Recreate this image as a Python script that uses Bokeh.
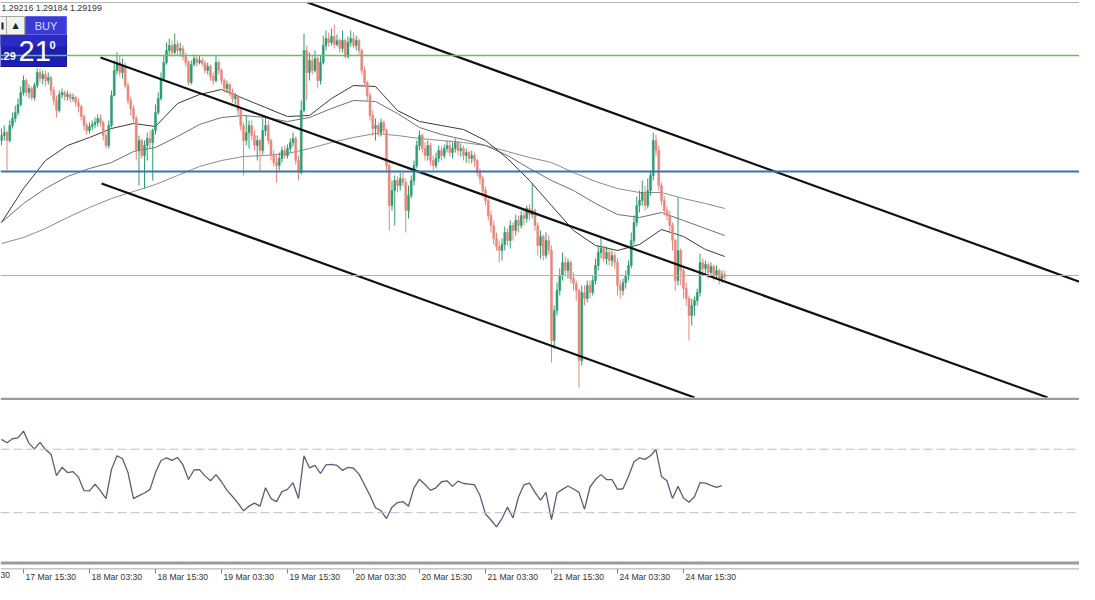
from bokeh.plotting import figure
from bokeh.layouts import column
from bokeh.models import Range1d, Span, Label, ColumnDataSource
from bokeh.embed import file_html
from bokeh.resources import INLINE

# ---------------- data (GBPUSD M30, bar index 0 = 17 Mar 11:30) ----------------
first_open = 1.3055
closes = [
    1.3060, 1.3063, 1.3055, 1.3070, 1.3077, 1.3083, 1.3091, 1.3103, 1.3115, 1.3103,
    1.3107, 1.3098, 1.3110, 1.3123, 1.3117, 1.3121, 1.3115, 1.3118, 1.3105, 1.3095,
    1.3085, 1.3101, 1.3103, 1.3099, 1.3101, 1.3097, 1.3098, 1.3093, 1.3089, 1.3079,
    1.3070, 1.3065, 1.3069, 1.3071, 1.3073, 1.3077, 1.3073, 1.3060, 1.3050, 1.3070,
    1.3100, 1.3125, 1.3133, 1.3123, 1.3129, 1.3110, 1.3095, 1.3087, 1.3077, 1.3045,
    1.3055, 1.3040, 1.3050, 1.3057, 1.3053, 1.3065, 1.3083, 1.3097, 1.3117, 1.3133,
    1.3145, 1.3150, 1.3143, 1.3151, 1.3145, 1.3147, 1.3139, 1.3133, 1.3113, 1.3131,
    1.3137, 1.3133, 1.3135, 1.3132, 1.3125, 1.3129, 1.3119, 1.3115, 1.3133, 1.3125,
    1.3115, 1.3107, 1.3111, 1.3103, 1.3097, 1.3099, 1.3085, 1.3070, 1.3055, 1.3063,
    1.3070, 1.3060, 1.3050, 1.3055, 1.3045, 1.3065, 1.3070, 1.3055, 1.3040, 1.3033,
    1.3030, 1.3037, 1.3045, 1.3040, 1.3047, 1.3053, 1.3057, 1.3035, 1.3023, 1.3085,
    1.3145, 1.3123, 1.3135, 1.3125, 1.3137, 1.3115, 1.3133, 1.3150, 1.3157, 1.3153,
    1.3159, 1.3151, 1.3155, 1.3147, 1.3155, 1.3139, 1.3153, 1.3157, 1.3150, 1.3155,
    1.3145, 1.3125, 1.3113, 1.3100, 1.3080, 1.3067, 1.3070, 1.3063, 1.3073, 1.3065,
    1.3030, 1.2990, 1.3005, 1.3015, 1.3010, 1.3017, 1.3013, 1.2985, 1.3000, 1.3015,
    1.3030, 1.3050, 1.3060, 1.3047, 1.3040, 1.3050, 1.3035, 1.3030, 1.3037, 1.3045,
    1.3040, 1.3047, 1.3050, 1.3043, 1.3047, 1.3053, 1.3045, 1.3047, 1.3040, 1.3043,
    1.3037, 1.3040, 1.3035, 1.3023, 1.3017, 1.3005, 1.2995, 1.2980, 1.2970, 1.2957,
    1.2949, 1.2945, 1.2951, 1.2963, 1.2955, 1.2970, 1.2965, 1.2975, 1.2970, 1.2980,
    1.2977, 1.2987, 1.2981, 1.2985, 1.2970, 1.2950, 1.2959, 1.2940, 1.2955, 1.2945,
    1.2855, 1.2885, 1.2905, 1.2920, 1.2933, 1.2925, 1.2933, 1.2917, 1.2912, 1.2905,
    1.2835, 1.2903, 1.2897, 1.2910, 1.2903, 1.2915, 1.2930, 1.2943, 1.2947, 1.2937,
    1.2943, 1.2935, 1.2940, 1.2933, 1.2910, 1.2905, 1.2913, 1.2920, 1.2930, 1.2955,
    1.2973, 1.2990, 1.2995, 1.3003, 1.2990, 1.3005, 1.3020, 1.3055, 1.3045, 1.3010,
    1.2995, 1.2985, 1.2980, 1.2970, 1.2955, 1.2915, 1.2945, 1.2925, 1.2907, 1.2897,
    1.2880, 1.2890, 1.2895, 1.2903, 1.2933, 1.2927, 1.2931, 1.2923, 1.2929, 1.2921,
    1.2925, 1.2917, 1.2921, 1.2919,
]
highs = [
    1.3067, 1.3070, 1.3065, 1.3075, 1.3083, 1.3090, 1.3097, 1.3109, 1.3120, 1.3117,
    1.3111, 1.3109, 1.3113, 1.3127, 1.3127, 1.3125, 1.3125, 1.3123, 1.3120, 1.3109,
    1.3100, 1.3105, 1.3107, 1.3105, 1.3105, 1.3103, 1.3102, 1.3100, 1.3097, 1.3091,
    1.3081, 1.3073, 1.3073, 1.3075, 1.3078, 1.3081, 1.3081, 1.3075, 1.3063, 1.3075,
    1.3105, 1.3135, 1.3143, 1.3140, 1.3137, 1.3133, 1.3113, 1.3099, 1.3090, 1.3080,
    1.3060, 1.3057, 1.3055, 1.3063, 1.3065, 1.3067, 1.3091, 1.3103, 1.3123, 1.3140,
    1.3153, 1.3157, 1.3155, 1.3162, 1.3155, 1.3153, 1.3150, 1.3143, 1.3135, 1.3135,
    1.3141, 1.3139, 1.3140, 1.3138, 1.3135, 1.3133, 1.3131, 1.3123, 1.3140, 1.3135,
    1.3127, 1.3117, 1.3115, 1.3113, 1.3107, 1.3103, 1.3101, 1.3087, 1.3073, 1.3080,
    1.3075, 1.3075, 1.3065, 1.3060, 1.3057, 1.3077, 1.3078, 1.3075, 1.3057, 1.3045,
    1.3040, 1.3043, 1.3049, 1.3050, 1.3051, 1.3057, 1.3063, 1.3059, 1.3040, 1.3095,
    1.3162, 1.3150, 1.3143, 1.3140, 1.3145, 1.3139, 1.3140, 1.3160, 1.3165, 1.3163,
    1.3167, 1.3171, 1.3161, 1.3157, 1.3165, 1.3157, 1.3159, 1.3165, 1.3163, 1.3160,
    1.3157, 1.3147, 1.3129, 1.3115, 1.3103, 1.3085, 1.3077, 1.3073, 1.3077, 1.3075,
    1.3067, 1.3035, 1.3015, 1.3020, 1.3019, 1.3023, 1.3023, 1.3017, 1.3010, 1.3020,
    1.3035, 1.3055, 1.3065, 1.3062, 1.3053, 1.3055, 1.3053, 1.3040, 1.3043, 1.3050,
    1.3049, 1.3051, 1.3055, 1.3055, 1.3053, 1.3057, 1.3055, 1.3052, 1.3050, 1.3047,
    1.3045, 1.3045, 1.3043, 1.3037, 1.3027, 1.3020, 1.3009, 1.2997, 1.2985, 1.2975,
    1.2963, 1.2955, 1.2957, 1.2969, 1.2967, 1.2975, 1.2973, 1.2981, 1.2980, 1.2985,
    1.2985, 1.2990, 1.2991, 1.3012, 1.2987, 1.2973, 1.2965, 1.2961, 1.2963, 1.2960,
    1.2950, 1.2890, 1.2913, 1.2927, 1.2943, 1.2939, 1.2937, 1.2935, 1.2923, 1.2915,
    1.2907, 1.2910, 1.2910, 1.2915, 1.2915, 1.2920, 1.2937, 1.2950, 1.2957, 1.2950,
    1.2949, 1.2947, 1.2945, 1.2943, 1.2937, 1.2915, 1.2917, 1.2925, 1.2935, 1.2963,
    1.2980, 1.2999, 1.3005, 1.3015, 1.3010, 1.3017, 1.3025, 1.3063, 1.3061, 1.3050,
    1.3013, 1.3000, 1.2989, 1.2985, 1.2973, 1.2957, 1.2998, 1.2947, 1.2929, 1.2913,
    1.2900, 1.2897, 1.2899, 1.2907, 1.2942, 1.2937, 1.2935, 1.2933, 1.2933, 1.2931,
    1.2930, 1.2927, 1.2925, 1.2925,
]
lows = [
    1.3050, 1.3055, 1.3025, 1.3053, 1.3067, 1.3073, 1.3080, 1.3089, 1.3100, 1.3099,
    1.3097, 1.3095, 1.3095, 1.3107, 1.3113, 1.3111, 1.3109, 1.3111, 1.3100, 1.3090,
    1.3078, 1.3083, 1.3097, 1.3095, 1.3095, 1.3093, 1.3094, 1.3089, 1.3083, 1.3075,
    1.3065, 1.3061, 1.3062, 1.3065, 1.3067, 1.3069, 1.3069, 1.3055, 1.3047, 1.3047,
    1.3068, 1.3099, 1.3121, 1.3119, 1.3117, 1.3107, 1.3091, 1.3080, 1.3073, 1.3035,
    1.3010, 1.3037, 1.3007, 1.3035, 1.3047, 1.3015, 1.3061, 1.3081, 1.3095, 1.3115,
    1.3131, 1.3140, 1.3139, 1.3141, 1.3140, 1.3139, 1.3135, 1.3129, 1.3110, 1.3111,
    1.3129, 1.3129, 1.3131, 1.3129, 1.3122, 1.3121, 1.3115, 1.3111, 1.3113, 1.3121,
    1.3111, 1.3103, 1.3103, 1.3099, 1.3093, 1.3091, 1.3081, 1.3065, 1.3020, 1.3050,
    1.3047, 1.3055, 1.3045, 1.3035, 1.3025, 1.3041, 1.3060, 1.3051, 1.3035, 1.3029,
    1.3013, 1.3025, 1.3033, 1.3037, 1.3037, 1.3043, 1.3049, 1.3031, 1.3015, 1.3021,
    1.3083, 1.3095, 1.3115, 1.3121, 1.3123, 1.3107, 1.3111, 1.3131, 1.3145, 1.3149,
    1.3150, 1.3147, 1.3149, 1.3143, 1.3143, 1.3137, 1.3137, 1.3149, 1.3147, 1.3145,
    1.3141, 1.3121, 1.3109, 1.3095, 1.3075, 1.3060, 1.3055, 1.3059, 1.3059, 1.3061,
    1.3025, 1.2965, 1.2985, 1.2970, 1.3003, 1.3005, 1.3009, 1.2963, 1.2977, 1.2997,
    1.3010, 1.3027, 1.3045, 1.3043, 1.3035, 1.3035, 1.3030, 1.3025, 1.3027, 1.3033,
    1.3035, 1.3037, 1.3043, 1.3039, 1.3037, 1.3043, 1.3040, 1.3039, 1.3035, 1.3033,
    1.3032, 1.3032, 1.3029, 1.3019, 1.3011, 1.2999, 1.2990, 1.2975, 1.2963, 1.2951,
    1.2945, 1.2933, 1.2935, 1.2945, 1.2950, 1.2947, 1.2955, 1.2960, 1.2963, 1.2967,
    1.2970, 1.2973, 1.2975, 1.2977, 1.2965, 1.2940, 1.2937, 1.2935, 1.2937, 1.2941,
    1.2833, 1.2847, 1.2880, 1.2900, 1.2915, 1.2920, 1.2917, 1.2913, 1.2905, 1.2895,
    1.2808, 1.2830, 1.2890, 1.2893, 1.2897, 1.2900, 1.2911, 1.2925, 1.2937, 1.2933,
    1.2931, 1.2930, 1.2929, 1.2927, 1.2900, 1.2897, 1.2900, 1.2907, 1.2915, 1.2927,
    1.2951, 1.2969, 1.2983, 1.2990, 1.2985, 1.2987, 1.3000, 1.3015, 1.3039, 1.3005,
    1.2990, 1.2980, 1.2975, 1.2963, 1.2945, 1.2905, 1.2910, 1.2910, 1.2897, 1.2890,
    1.2855, 1.2870, 1.2880, 1.2890, 1.2899, 1.2920, 1.2920, 1.2917, 1.2919, 1.2915,
    1.2917, 1.2911, 1.2913, 1.2915,
]

# moving averages, read every 8 bars (last at bar 263)
ma_bars = [0, 8, 16, 24, 32, 40, 48, 56, 64, 72, 80, 88, 96, 104, 112, 120, 128,
           136, 144, 152, 160, 168, 176, 184, 192, 200, 208, 216, 224, 232, 240,
           248, 256, 263]
ma_fast = [1.2973, 1.3007, 1.3035, 1.3050, 1.3058, 1.3067, 1.3072, 1.3069, 1.3092,
           1.3101, 1.3106, 1.3097, 1.3088, 1.3079, 1.3080, 1.3097, 1.3110, 1.3109,
           1.3085, 1.3074, 1.3070, 1.3066, 1.3055, 1.3037, 1.3015, 1.2990, 1.2965,
           1.2950, 1.2945, 1.2951, 1.2966, 1.2959, 1.2946, 1.2939]
ma_mid = [1.2973, 1.2992, 1.3007, 1.3019, 1.3027, 1.3033, 1.3044, 1.3048, 1.3059,
          1.3071, 1.3078, 1.3080, 1.3078, 1.3074, 1.3078, 1.3087, 1.3095, 1.3094,
          1.3082, 1.3068, 1.3061, 1.3056, 1.3050, 1.3040, 1.3027, 1.3015, 1.3005,
          1.2992, 1.2981, 1.2978, 1.2983, 1.2975, 1.2967, 1.2960]
ma_slow = [1.2952, 1.2958, 1.2967, 1.2978, 1.2988, 1.2997, 1.3004, 1.3011, 1.3020,
           1.3029, 1.3035, 1.3039, 1.3040, 1.3042, 1.3047, 1.3053, 1.3058, 1.3062,
           1.3060, 1.3057, 1.3055, 1.3053, 1.3050, 1.3044, 1.3038, 1.3033, 1.3023,
           1.3014, 1.3007, 1.3003, 1.3003, 1.2997, 1.2992, 1.2987]

# RSI(14), read every 2 bars
rsi_values = [
    76.2, 74.1, 76.6, 77.2, 81.4, 73.7, 70.2, 74.3, 69.8, 66.9,
    53.4, 58.6, 55.3, 55.9, 52.4, 43.9, 43.7, 48.0, 43.7, 38.9,
    57.3, 65.9, 64.0, 55.3, 38.9, 40.8, 42.4, 44.7, 55.3, 62.9,
    64.6, 63.0, 64.8, 60.1, 50.9, 56.9, 57.1, 53.2, 50.1, 54.0,
    49.5, 44.1, 40.2, 36.0, 31.2, 34.1, 36.0, 34.1, 45.7, 38.9,
    37.0, 43.3, 44.7, 48.9, 38.9, 65.9, 58.2, 59.8, 54.7, 60.1,
    60.5, 59.8, 56.7, 58.6, 58.0, 54.3, 47.6, 40.8, 33.1, 31.2,
    26.3, 33.5, 36.4, 37.0, 34.1, 45.7, 51.1, 47.8, 44.1, 45.7,
    49.5, 50.1, 46.6, 49.9, 48.4, 48.0, 47.6, 40.8, 29.2, 25.4,
    21.1, 26.3, 33.5, 26.7, 39.9, 47.6, 48.6, 42.8, 37.9, 42.8,
    25.7, 42.4, 44.7, 46.8, 44.9, 42.8, 32.1, 46.2, 50.9, 54.0,
    50.9, 50.9, 44.7, 45.1, 52.8, 62.1, 64.6, 63.6, 65.9, 69.8,
    52.8, 50.1, 38.9, 46.6, 39.3, 36.6, 40.0, 48.9, 48.6, 47.2,
    46.0, 47.0,
]
rsi_levels = [70, 30]

# drawn objects: trend channel (bar index, price) and horizontal levels
channel_lines = [
    ((111.3, 1.3193), (397.8, 1.2908)),
    ((36.0, 1.3138), (380.4, 1.2798)),
    ((36.4, 1.3012), (252.0, 1.2798)),
]
level_green = 1.3140
level_blue = 1.3024
bid_price = 1.2920

tick_bars = [8, 32, 56, 80, 104, 128, 152, 176, 200, 224, 248]
tick_labels = ["17 Mar 15:30", "18 Mar 03:30", "18 Mar 15:30", "19 Mar 03:30",
               "19 Mar 15:30", "20 Mar 03:30", "20 Mar 15:30", "21 Mar 03:30",
               "21 Mar 15:30", "24 Mar 03:30", "24 Mar 15:30"]
edge_label = "30"          # visible tail of the "17 Mar 03:30" label at the left edge
header_text = "1.29216 1.29184 1.29199"

# ---------------- build ----------------
W = 1079
BAR_PX = 2.75
x_lo = -0.36
x_hi = x_lo + W / BAR_PX
y_top, y_bot = 1.3195, 1.2798

opens = [first_open] + closes[:-1]
idx = list(range(len(closes)))

bull = dict(x=[], top=[], bottom=[], hi=[], lo=[])
bear = dict(x=[], top=[], bottom=[], hi=[], lo=[])
for i, o, h, l, c in zip(idx, opens, highs, lows, closes):
    d = bull if c >= o else bear
    d["x"].append(i)
    d["top"].append(max(o, c))
    d["bottom"].append(min(o, c))
    d["hi"].append(h)
    d["lo"].append(l)

BULL = "#2f9c70"
BEAR = "#ea857a"

xr = Range1d(x_lo, x_hi)
p = figure(width=W, height=400, x_range=xr, y_range=Range1d(y_bot, y_top),
           output_backend="svg", toolbar_location=None,
           x_axis_location=None, y_axis_location=None,
           min_border=0, min_border_left=0, min_border_right=0, min_border_top=0,
           min_border_bottom=3, border_fill_color="#9c9c9c",
           background_fill_color="white", outline_line_color=None)
p.grid.visible = False

# top border line
p.add_layout(Span(location=y_top - 0.0002, dimension="width", line_color="#b4b4b4", line_width=1))

# horizontal levels
p.add_layout(Span(location=bid_price, dimension="width", line_color="#b0b0b0", line_width=1))
p.add_layout(Span(location=level_green, dimension="width", line_color="#62c062", line_width=1.3))
p.add_layout(Span(location=level_blue, dimension="width", line_color="#3676b0", line_width=2))

# moving averages
p.line(ma_bars, ma_slow, line_color="#8c8c8c", line_width=1)
p.line(ma_bars, ma_mid, line_color="#707070", line_width=1)
p.line(ma_bars, ma_fast, line_color="#3a3a3a", line_width=1)

# candles
for d, col in ((bull, BULL), (bear, BEAR)):
    src = ColumnDataSource(d)
    p.segment(x0="x", y0="lo", x1="x", y1="hi", source=src, line_color=col, line_width=1)
    p.vbar(x="x", top="top", bottom="bottom", width=0.72, source=src,
           fill_color=col, line_color=col, line_width=0.5)

# channel
for (xa, ya), (xb, yb) in channel_lines:
    p.line([xa, xb], [ya, yb], line_color="#111111", line_width=2.2)


# one-click trading panel (positions in screen pixels of the chart)
def xp(px):
    return x_lo + px / BAR_PX


def yp(py):
    return y_top - py * (y_top - y_bot) / 397.0


p.quad(left=[xp(-2)], right=[xp(66)], top=[yp(34)], bottom=[yp(66)],
       fill_color="#1e1eb2", line_color="#15158a", line_width=1)
p.quad(left=[xp(-2)], right=[xp(66)], top=[yp(34)], bottom=[yp(46)],
       fill_color="#2a2ac4", line_color=None)
p.quad(left=[xp(25)], right=[xp(66)], top=[yp(16)], bottom=[yp(34)],
       fill_color="#3a3ad4", line_color="#6262e6", line_width=1)
p.quad(left=[xp(-2)], right=[xp(24)], top=[yp(16)], bottom=[yp(34)],
       fill_color="#f2f2f2", line_color="#a8a8a8", line_width=1)
p.quad(left=[xp(-2)], right=[xp(6)], top=[yp(16)], bottom=[yp(34)],
       fill_color="#f2f2f2", line_color="#a8a8a8", line_width=1)
p.quad(left=[xp(1)], right=[xp(3)], top=[yp(22)], bottom=[yp(29)],
       fill_color="#202020", line_color=None)

p.add_layout(Label(x=xp(15), y=yp(25), text="\u25b2", text_align="center",
                   text_baseline="middle", text_font_size="8px", text_color="#202020",
                   text_font="DejaVu Sans"))
p.add_layout(Label(x=xp(45.5), y=yp(25.5), text="BUY", text_align="center",
                   text_baseline="middle", text_font_size="11px", text_color="#dcdcff",
                   text_font="Liberation Sans"))
p.add_layout(Label(x=xp(0), y=yp(55.5), text=".29", text_align="left",
                   text_baseline="middle", text_font_size="11px", text_font_style="bold",
                   text_color="white", text_font="Liberation Sans"))
p.add_layout(Label(x=xp(18), y=yp(50), text="21", text_align="left",
                   text_baseline="middle", text_font_size="29px",
                   text_color="white", text_font="Liberation Sans"))
p.add_layout(Label(x=xp(49), y=yp(44), text="0", text_align="left",
                   text_baseline="middle", text_font_size="11px", text_font_style="bold",
                   text_color="white", text_font="Liberation Sans"))
p.add_layout(Label(x=xp(1), y=yp(7.5), text=header_text, text_align="left",
                   text_baseline="middle", text_font_size="8.8px",
                   text_color="#333333", text_font="Liberation Sans"))

# ---------------- RSI panel with the time scale drawn inside it ----------------
RSI_TOP = 100.7
RSI_PX = 1.725 * 0.92                  # pixels per RSI unit in this panel
H2 = 184


def rv(ref_y):                          # reference-pixel row -> panel value
    return RSI_TOP - (ref_y - 400) / 1.725


r = figure(width=W, height=H2, x_range=xr,
           y_range=Range1d(RSI_TOP - H2 / RSI_PX, RSI_TOP),
           output_backend="svg", toolbar_location=None,
           y_axis_location=None, x_axis_location=None,
           min_border=0, min_border_left=0, min_border_right=0, min_border_top=0,
           min_border_bottom=0, border_fill_color="white",
           background_fill_color="white", outline_line_color=None)
r.grid.visible = False
for lv in rsi_levels:
    r.add_layout(Span(location=lv, dimension="width", line_color="#bdbdca",
                      line_width=1, line_dash="9 4"))
r.line([2 * k for k in range(len(rsi_values))], rsi_values,
       line_color="#5c5c78", line_width=1.3)
# panel bottom border and time axis line
r.add_layout(Span(location=rv(576.5), dimension="width", line_color="#9c9c9c", line_width=3))
r.add_layout(Span(location=rv(583), dimension="width", line_color="#a8a8a8", line_width=1))
r.segment(x0=tick_bars, x1=tick_bars, y0=[rv(583)] * len(tick_bars),
          y1=[rv(588)] * len(tick_bars), line_color="#808080", line_width=1)

for b, t in zip(tick_bars, tick_labels):
    r.add_layout(Label(x=b, y=rv(586.5), text=t, text_align="left", text_baseline="top",
                       x_offset=2, text_font="Liberation Sans",
                       text_font_size="8.6px", text_color="#333333"))
r.add_layout(Label(x=xp(0), y=rv(586.5), text=edge_label, text_align="left",
                   text_baseline="top", text_font="Liberation Sans",
                   text_font_size="8.6px", text_color="#333333"))

layout = column(p, r, spacing=0)
open("out.html", "w").write(file_html(layout, INLINE))
